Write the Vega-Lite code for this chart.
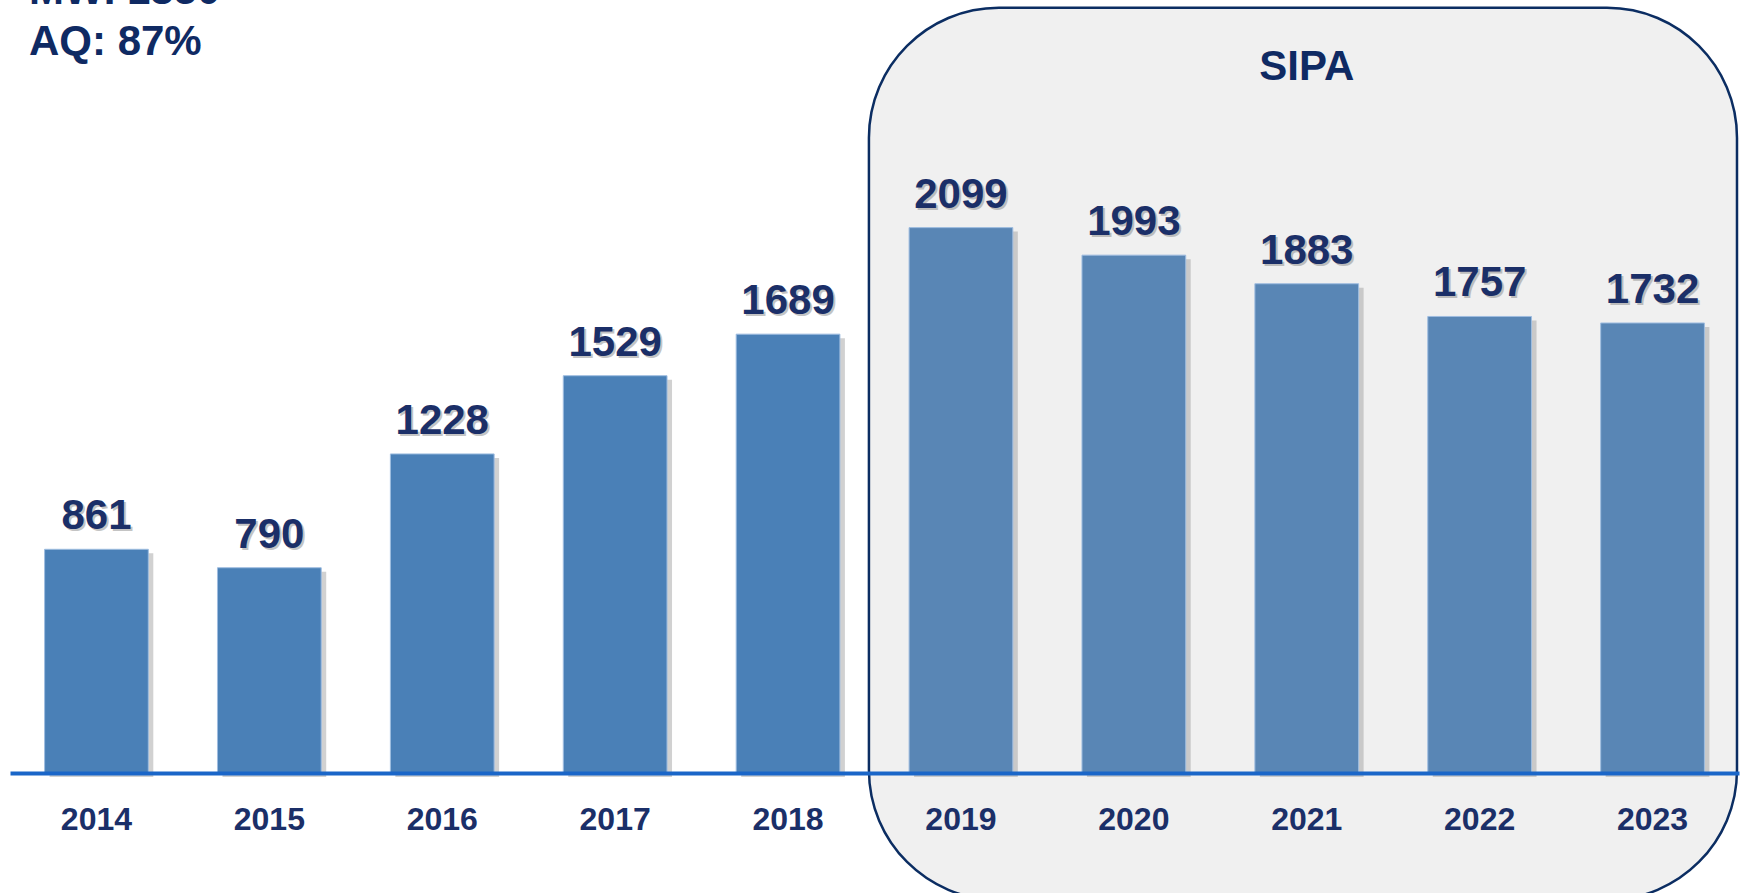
{
  "$schema": "https://vega.github.io/schema/vega-lite/v6.json",
  "width": 1729,
  "height": 773,
  "autosize": {"type": "none"},
  "padding": {"left": 10, "top": 0, "right": 3, "bottom": 120},
  "background": "#ffffff",
  "title": {
    "text": ["MWI 1850", "AQ: 87%"],
    "anchor": "start",
    "frame": "group",
    "orient": "top",
    "offset": 0,
    "dx": 19,
    "dy": 106,
    "baseline": "bottom",
    "lineHeight": 51,
    "font": "Liberation Sans",
    "fontSize": 42,
    "fontWeight": "bold",
    "color": "#0f2a63"
  },
  "data": {
    "values": [
      {"year": "2014", "value": 861},
      {"year": "2015", "value": 790},
      {"year": "2016", "value": 1228},
      {"year": "2017", "value": 1529},
      {"year": "2018", "value": 1689},
      {"year": "2019", "value": 2099},
      {"year": "2020", "value": 1993},
      {"year": "2021", "value": 1883},
      {"year": "2022", "value": 1757},
      {"year": "2023", "value": 1732}
    ]
  },
  "encoding": {
    "x": {
      "field": "year",
      "type": "ordinal",
      "scale": {"paddingInner": 0.4, "paddingOuter": 0.2},
      "axis": {
        "title": null,
        "ticks": false,
        "labelAngle": 0,
        "labelFont": "Liberation Sans",
        "labelFontSize": 32,
        "labelFontWeight": "bold",
        "labelColor": "#1b2f68",
        "labelPadding": 31,
        "domainColor": "#1a66c8",
        "domainWidth": 4,
        "grid": false,
        "zindex": 1
      }
    }
  },
  "layer": [
    {
      "data": {"values": [{"label": "SIPA"}]},
      "mark": {"type": "rect", "fill": "#f0f0f0", "stroke": "#0b2d62", "strokeWidth": 2.5, "cornerRadius": 130, "clip": false},
      "encoding": {
        "x": {"datum": "2019", "type": "ordinal", "bandPosition": -0.387},
        "x2": {"datum": "2023", "bandPosition": 1.314},
        "y": {"datum": 2945, "type": "quantitative", "scale": {"domain": [0, 2975], "nice": false}, "axis": null},
        "y2": {"datum": -489}
      }
    },
    {
      "data": {"values": [{"label": "SIPA"}]},
      "mark": {"type": "text", "font": "Liberation Sans", "fontSize": 42, "fontWeight": "bold", "color": "#0f2a63", "baseline": "alphabetic", "align": "center"},
      "encoding": {
        "x": {"datum": "2021", "type": "ordinal"},
        "y": {"datum": 2667, "type": "quantitative", "scale": {"domain": [0, 2975], "nice": false}, "axis": null},
        "text": {"field": "label"}
      }
    },
    {
      "mark": {"type": "bar", "color": "#9a9a9a", "opacity": 0.45, "xOffset": 5, "yOffset": 4},
      "encoding": {
        "y": {"field": "value", "type": "quantitative", "scale": {"domain": [0, 2975], "nice": false}, "axis": null}
      }
    },
    {
      "mark": {"type": "bar", "stroke": "#9fbde0", "strokeWidth": 1},
      "encoding": {
        "y": {"field": "value", "type": "quantitative", "scale": {"domain": [0, 2975], "nice": false}, "axis": null},
        "color": {
          "condition": {"test": "toNumber(datum.year) >= 2019", "value": "#5986b5"},
          "value": "#4a80b7"
        }
      }
    },
    {
      "mark": {"type": "text", "font": "Liberation Sans", "fontSize": 42, "fontWeight": "bold", "color": "#8a8a8a", "opacity": 0.5, "baseline": "alphabetic", "align": "center", "dx": 2, "dy": -18},
      "encoding": {
        "y": {"field": "value", "type": "quantitative", "scale": {"domain": [0, 2975], "nice": false}, "axis": null},
        "text": {"field": "value", "type": "quantitative", "format": "d"}
      }
    },
    {
      "mark": {"type": "text", "font": "Liberation Sans", "fontSize": 42, "fontWeight": "bold", "color": "#1b2f68", "baseline": "alphabetic", "align": "center", "dy": -20},
      "encoding": {
        "y": {"field": "value", "type": "quantitative", "scale": {"domain": [0, 2975], "nice": false}, "axis": null},
        "text": {"field": "value", "type": "quantitative", "format": "d"}
      }
    }
  ],
  "config": {"view": {"stroke": null}}
}
